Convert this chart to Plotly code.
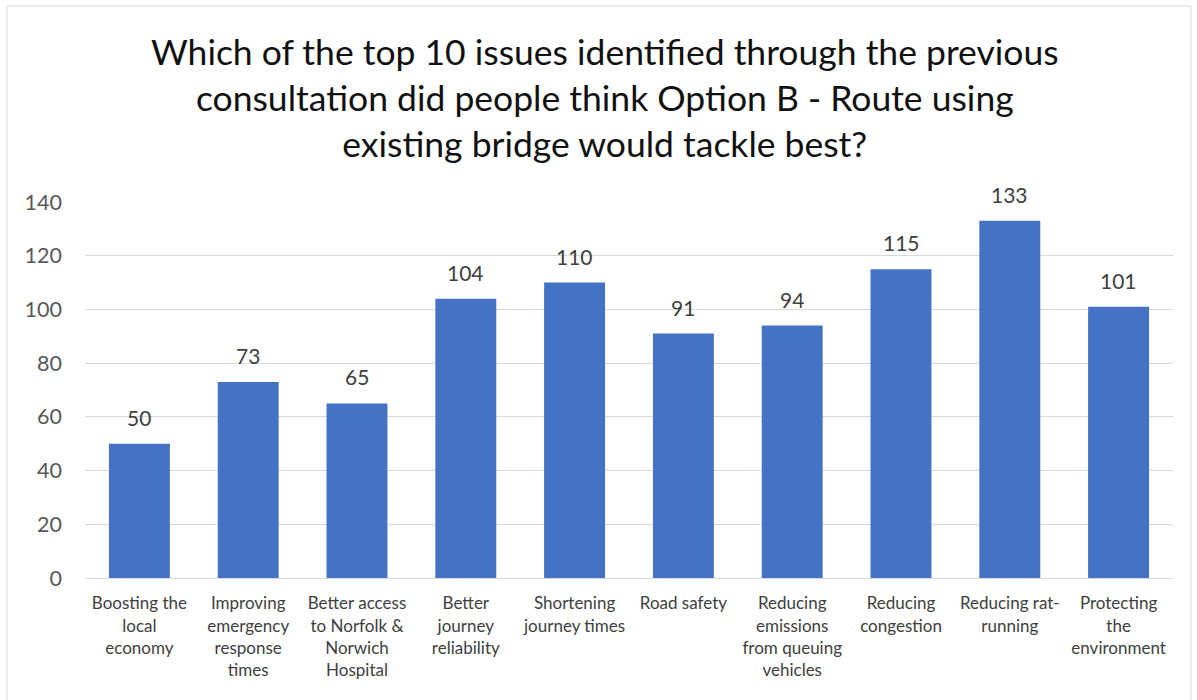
import plotly.graph_objects as go

categories = [
    "Boosting the<br>local<br>economy",
    "Improving<br>emergency<br>response<br>times",
    "Better access<br>to Norfolk &<br>Norwich<br>Hospital",
    "Better<br>journey<br>reliability",
    "Shortening<br>journey times",
    "Road safety",
    "Reducing<br>emissions<br>from queuing<br>vehicles",
    "Reducing<br>congestion",
    "Reducing rat-<br>running",
    "Protecting<br>the<br>environment",
]
values = [50, 73, 65, 104, 110, 91, 94, 115, 133, 101]
y_ticks = [0, 20, 40, 60, 80, 100, 120, 140]

title_text = ("Which of the top 10 issues identified through the previous<br>"
              "consultation did people think Option B - Route using<br>"
              "existing bridge would tackle best?")

FONT = "Lato, 'Open Sans', sans-serif"
W, H = 1197, 700
ML, MR, MT, MB = 85, 24, 202, 122
pw, ph = W - ML - MR, H - MT - MB


def px_to_paper_x(px):
    return (px - ML) / pw


def px_to_paper_y(py):
    return (H - MB - py) / ph


fig = go.Figure(go.Bar(
    x=categories,
    y=values,
    marker=dict(color="#4472C4", line=dict(width=0)),
    hoverinfo="x+y",
))

# value labels above each bar
annotations = [
    dict(x=c, y=v, xref="x", yref="y", text=str(v), showarrow=False,
         yanchor="bottom", yshift=12,
         font=dict(family=FONT, size=21, color="#404040"))
    for c, v in zip(categories, values)
]

# chart title
annotations.append(dict(
    x=px_to_paper_x(605), y=px_to_paper_y(98), xref="paper", yref="paper",
    text=title_text, showarrow=False, xanchor="center", yanchor="middle",
    align="center",
    font=dict(family=FONT, size=35.5, color="#111111"),
))

fig.update_layout(
    width=W, height=H,
    margin=dict(l=ML, r=MR, t=MT, b=MB),
    paper_bgcolor="white",
    plot_bgcolor="white",
    bargap=0.44,
    showlegend=False,
    xaxis=dict(
        showgrid=False,
        showline=True, linecolor="#D9D9D9", linewidth=1,
        ticks="",
        ticklabelstandoff=10,
        tickfont=dict(family=FONT, size=17, color="#404040"),
        tickangle=0,
    ),
    yaxis=dict(
        range=[0, 140],
        tickvals=y_ticks,
        showgrid=True, gridcolor="#D9D9D9", gridwidth=1,
        zeroline=False,
        showline=False,
        ticks="",
        ticklabelstandoff=22,
        tickfont=dict(family=FONT, size=21.5, color="#595959"),
    ),
    annotations=annotations,
    shapes=[dict(
        type="rect", xref="paper", yref="paper",
        x0=px_to_paper_x(7), x1=px_to_paper_x(1191),
        y0=px_to_paper_y(720), y1=px_to_paper_y(6),
        line=dict(color="#D9D9D9", width=1),
        fillcolor="rgba(0,0,0,0)",
        layer="below",
    )],
)

fig.write_html("out.html")
